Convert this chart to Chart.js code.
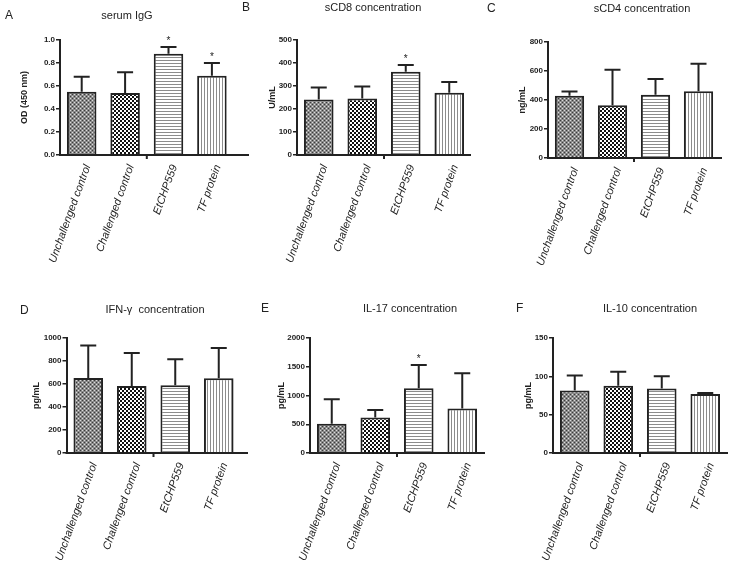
<!DOCTYPE html>
<html>
<head>
<meta charset="utf-8">
<script src="https://cdn.jsdelivr.net/npm/chart.js@4.4.0/dist/chart.umd.min.js"></script>
<style>
  body { margin: 0; background: #fff; width: 731px; height: 562px; position: relative; overflow: hidden; }
  .panel { position: absolute; }
</style>
</head>
<body>
<div class="panel" id="boxA"><canvas id="cA"></canvas></div>
<div class="panel" id="boxB"><canvas id="cB"></canvas></div>
<div class="panel" id="boxC"><canvas id="cC"></canvas></div>
<div class="panel" id="boxD"><canvas id="cD"></canvas></div>
<div class="panel" id="boxE"><canvas id="cE"></canvas></div>
<div class="panel" id="boxF"><canvas id="cF"></canvas></div>
<script>
// groups on the x axis
var categories = ['Unchallenged control', 'Challenged control', 'EtCHP559', 'TF protein'];

// A - serum IgG, OD (450 nm)
var iggMean = [0.55, 0.54, 0.88, 0.69];
var iggErr  = [0.13, 0.18, 0.06, 0.11];
var iggSig  = [false, false, true, true];

// B - sCD8, U/mL
var cd8Mean = [241, 246, 362, 271];
var cd8Err  = [53, 52, 29, 46];
var cd8Sig  = [false, false, true, false];

// C - sCD4, ng/mL
var cd4Mean = [429, 364, 436, 461];
var cd4Err  = [30, 245, 108, 189];
var cd4Sig  = [false, false, false, false];

// D - IFN-gamma, pg/mL
var ifnMean = [652, 583, 589, 650];
var ifnErr  = [283, 286, 226, 263];
var ifnSig  = [false, false, false, false];

// E - IL-17, pg/mL
var il17Mean = [508, 617, 1125, 773];
var il17Err  = [427, 133, 404, 612];
var il17Sig  = [false, false, true, false];

// F - IL-10, pg/mL
var il10Mean = [81.4, 87.6, 84, 77];
var il10Err  = [19.6, 18.4, 16, 1.4];
var il10Sig  = [false, false, false, false];

// y axis ranges (max, step)
var yMax  = [1.0, 500, 800, 1000, 2000, 150];
var yStep = [0.2, 100, 200, 200, 500, 50];

var INK = '#222';

function makePattern(kind) {
  var c = document.createElement('canvas');
  var g = c.getContext('2d');
  if (kind === 'gray') {
    c.width = 4; c.height = 4;
    g.fillStyle = '#8a8a8a'; g.fillRect(0, 0, 4, 4);
    g.fillStyle = '#dcdcdc'; g.fillRect(0, 0, 1, 1); g.fillRect(2, 2, 1, 1);
    g.fillStyle = '#3c3c3c'; g.fillRect(2, 0, 1, 1); g.fillRect(0, 2, 1, 1);
  } else if (kind === 'check') {
    c.width = 4; c.height = 4;
    g.fillStyle = '#fff'; g.fillRect(0, 0, 4, 4);
    g.fillStyle = '#111'; g.fillRect(0, 0, 2, 2); g.fillRect(2, 2, 2, 2);
  } else if (kind === 'hlines') {
    c.width = 3; c.height = 3;
    g.fillStyle = '#fff'; g.fillRect(0, 0, 3, 3);
    g.fillStyle = '#8c8c8c'; g.fillRect(0, 0, 3, 1);
  } else {
    c.width = 3; c.height = 3;
    g.fillStyle = '#fff'; g.fillRect(0, 0, 3, 3);
    g.fillStyle = '#8c8c8c'; g.fillRect(0, 0, 1, 3);
  }
  return g.createPattern(c, 'repeat');
}

var fills = [makePattern('gray'), makePattern('check'), makePattern('hlines'), makePattern('vlines')];

// draws panel letter, title, y title, x axis line, error bars and stars
var panelDecor = {
  id: 'panelDecor',
  afterDraw: function(chart) {
    var p = chart.options.plugins.panelDecor;
    var ctx = chart.ctx;
    var area = chart.chartArea;
    var xs = chart.scales.x, ys = chart.scales.y;
    ctx.save();
    ctx.fillStyle = INK;
    ctx.textBaseline = 'middle';
    ctx.font = '12px "Liberation Sans", Arial, sans-serif';
    ctx.textAlign = 'left';
    ctx.fillText(p.letter, p.letterX, p.letterY);
    ctx.font = '11px "Liberation Sans", Arial, sans-serif';
    ctx.textAlign = 'center';
    ctx.fillText(p.title, p.titleX, p.titleY);

    // y title
    ctx.save();
    ctx.translate(p.yTitleX, (area.top + area.bottom) / 2);
    ctx.rotate(-Math.PI / 2);
    ctx.font = 'bold 9px "Liberation Sans", Arial, sans-serif';
    ctx.fillText(p.yTitle, 0, 0);
    ctx.restore();

    // x axis line and centre tick
    ctx.strokeStyle = INK;
    ctx.lineWidth = 2;
    ctx.beginPath();
    ctx.moveTo(area.left - 1, area.bottom);
    ctx.lineTo(Math.max(area.right, p.axisEnd), area.bottom);
    var mid = (xs.getPixelForValue(1) + xs.getPixelForValue(2)) / 2;
    ctx.moveTo(mid, area.bottom);
    ctx.lineTo(mid, area.bottom + 4);
    ctx.stroke();

    // error bars (upper only) and significance stars
    var meta = chart.getDatasetMeta(0);
    ctx.font = '10px "Liberation Sans", Arial, sans-serif';
    ctx.textBaseline = 'alphabetic';
    meta.data.forEach(function(bar, i) {
      var top = ys.getPixelForValue(p.mean[i] + p.err[i]);
      ctx.beginPath();
      ctx.moveTo(bar.x, bar.y);
      ctx.lineTo(bar.x, top);
      ctx.moveTo(bar.x - 8, top);
      ctx.lineTo(bar.x + 8, top);
      ctx.stroke();
      if (p.sig[i]) ctx.fillText('*', bar.x, top - 3);
    });
    ctx.restore();
  }
};

var panels = [
  { id: 'A', title: 'serum IgG', yTitle: 'OD (450 nm)', mean: iggMean, err: iggErr, sig: iggSig, dec: 1,
    box: [0, 0, 252, 285], area: [60, 40, 233.6, 155], axisEnd: 249, letter: [5, 16], titlePos: [127, 16], yTitleX: 25 },
  { id: 'B', title: 'sCD8 concentration', yTitle: 'U/mL', mean: cd8Mean, err: cd8Err, sig: cd8Sig, dec: 0,
    box: [238, 0, 240, 285], area: [297, 40, 471, 155], axisEnd: 470, letter: [242, 8], titlePos: [373, 8], yTitleX: 273 },
  { id: 'C', title: 'sCD4 concentration', yTitle: 'ng/mL', mean: cd4Mean, err: cd4Err, sig: cd4Sig, dec: 0,
    box: [478, 0, 253, 285], area: [548, 42, 720, 158], axisEnd: 722, letter: [487, 9], titlePos: [642, 9], yTitleX: 523 },
  { id: 'D', title: 'IFN-\u03b3  concentration', yTitle: 'pg/mL', mean: ifnMean, err: ifnErr, sig: ifnSig, dec: 0,
    box: [0, 292, 252, 270], area: [66.5, 338, 240.5, 453], axisEnd: 248, letter: [20, 311], titlePos: [155, 310], yTitleX: 37 },
  { id: 'E', title: 'IL-17 concentration', yTitle: 'pg/mL', mean: il17Mean, err: il17Err, sig: il17Sig, dec: 0,
    box: [238, 292, 250, 270], area: [310, 338, 484, 453], axisEnd: 485, letter: [261, 309], titlePos: [410, 309], yTitleX: 282 },
  { id: 'F', title: 'IL-10 concentration', yTitle: 'pg/mL', mean: il10Mean, err: il10Err, sig: il10Sig, dec: 0,
    box: [478, 292, 253, 270], area: [553, 338, 727, 453], axisEnd: 728, letter: [516, 309], titlePos: [650, 309], yTitleX: 529 }
];

panels.forEach(function(p, k) {
  var bx = p.box[0], by = p.box[1], bw = p.box[2], bh = p.box[3];
  var holder = document.getElementById('box' + p.id);
  holder.style.left = bx + 'px';
  holder.style.top = by + 'px';
  holder.style.width = bw + 'px';
  holder.style.height = bh + 'px';
  var cv = document.getElementById('c' + p.id);
  cv.width = bw; cv.height = bh;
  cv.style.width = bw + 'px'; cv.style.height = bh + 'px';

  var yWidth = p.area[0] - bx;
  var xHeight = by + bh - p.area[3];

  new Chart(cv.getContext('2d'), {
    type: 'bar',
    data: {
      labels: categories,
      datasets: [{
        data: p.mean,
        backgroundColor: fills,
        borderColor: INK,
        borderWidth: 2,
        borderSkipped: 'bottom',
        barPercentage: 0.68,
        categoryPercentage: 1
      }]
    },
    options: {
      responsive: false,
      animation: false,
      layout: { padding: { left: 0, top: p.area[1] - by, right: bx + bw - p.area[2], bottom: 0 } },
      plugins: {
        legend: { display: false },
        tooltip: { enabled: false },
        panelDecor: {
          letter: p.id, letterX: p.letter[0] - bx, letterY: p.letter[1] - by,
          title: p.title, titleX: p.titlePos[0] - bx, titleY: p.titlePos[1] - by,
          yTitle: p.yTitle, yTitleX: p.yTitleX - bx,
          axisEnd: p.axisEnd - bx,
          mean: p.mean, err: p.err, sig: p.sig
        }
      },
      scales: {
        x: {
          grid: { display: false },
          border: { display: false },
          ticks: {
            autoSkip: false, minRotation: 70, maxRotation: 70, padding: 0, labelOffset: 6, color: INK,
            font: { family: '"Liberation Sans", Arial, sans-serif', size: 11, style: 'italic' }
          },
          afterFit: function(s) { s.height = xHeight; }
        },
        y: {
          min: 0, max: yMax[k],
          grid: { drawOnChartArea: false, drawTicks: true, tickLength: 4, color: INK, lineWidth: 1.5 },
          border: { display: true, color: INK, width: 2 },
          ticks: {
            stepSize: yStep[k], padding: 1, color: INK,
            font: { family: '"Liberation Sans", Arial, sans-serif', size: 8, weight: 'bold' },
            callback: function(v) { return Number(v).toFixed(p.dec); }
          },
          afterFit: function(s) { s.width = yWidth; }
        }
      }
    },
    plugins: [panelDecor]
  });
});
</script>
</body>
</html>
